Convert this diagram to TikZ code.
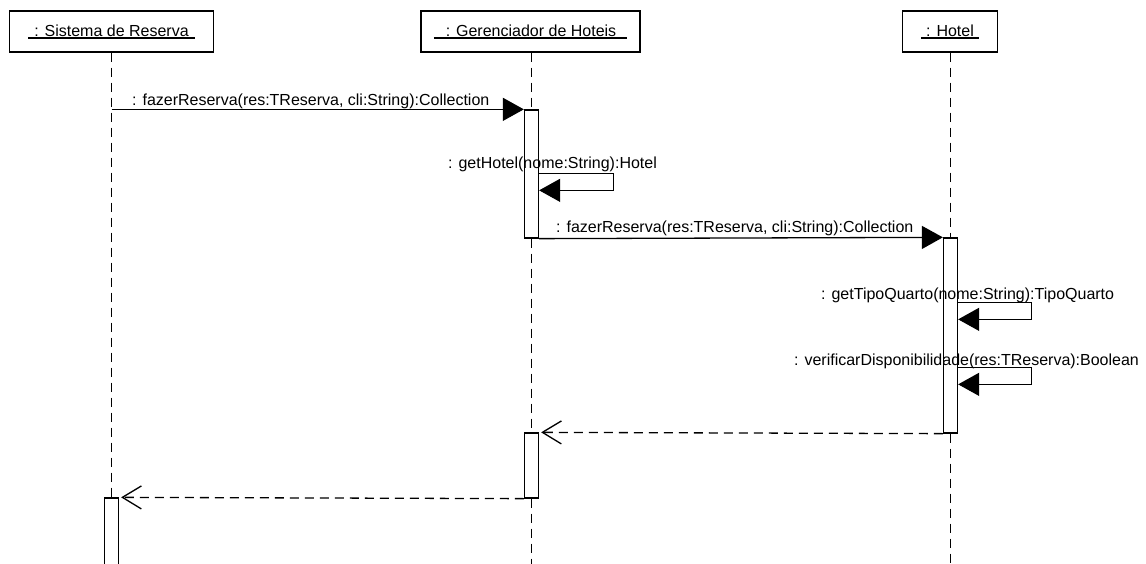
\documentclass[tikz,border=0pt]{standalone}
\usepackage{fontspec}
\setmainfont{Liberation Sans}
\usetikzlibrary{arrows.meta}

\newcommand{\objname}[1]{\setbox0\hbox{#1}\rlap{\rule[-2.5pt]{\wd0}{1.1pt}}\box0}

\tikzset{
  obj/.style={draw, line width=1.3pt, minimum height=41pt, inner sep=0pt},
  act/.style={draw, fill=white, line width=1.3pt, minimum width=14pt, inner sep=0pt},
  life/.style={line width=1.3pt, dash pattern=on 9pt off 6pt},
  call/.style={line width=1.3pt, -{Triangle[length=21pt,width=23pt]}},
  reply/.style={life, shorten >=2pt, -{Straight Barb[length=19pt,width=23pt]}},
  lbl/.style={inner sep=0pt, anchor=base west}
}

\begin{document}
\begin{tikzpicture}[x=1pt,y=-1pt,font=\fontsize{16}{19}\selectfont]
        \useasboundingbox (0,0) rectangle (1146,564);
        \coordinate (fim) at (0,570);
        \node[obj, minimum width=204pt] (sis) at (111.5,31.5) {\objname{\hspace{6pt}: Sistema de Reserva\hspace{6pt}}};
        \node[obj, minimum width=219pt] (ger) at (530.5,31.5) {\objname{\hspace{12pt}: Gerenciador de Hoteis\hspace{11pt}}};
        \node[obj, minimum width=95pt] (hot) at (950,31.5) {\objname{\hspace{5pt}: Hotel\hspace{5pt}}};
        \node[act, minimum height=128pt] (g1) at (531.5,174) {};
        \node[act, minimum height=195pt] (h1) at (950.5,335.5) {};
        \node[act, minimum height=65pt] (g2) at (531.5,465.5) {};
        \node[act, minimum height=80pt] (s1) at (111.5,538) {};
        \draw[life] (sis.south) -- (s1.north);
        \draw[life] (g1.north |- ger.south) -- (g1.north);
        \draw[life] (g1.south) -- (g2.north);
        \draw[life] (g2.south) -- (g2.south |- fim);
        \draw[life] (h1.north |- hot.south) -- (h1.north);
        \draw[life] (h1.south) -- (h1.south |- fim);
        \draw[call] (sis.south |- g1.north) -- (g1.north west);
        \draw[call] ([yshift=-64pt]g1.north east) -- ++(74,0) -- ++(0,17) -- ++(-74,0);
        \draw[call] (g1.south east) -- (h1.north west);
        \draw[call] ([yshift=-65pt]h1.north east) -- ++(73,0) -- ++(0,17) -- ++(-73,0);
        \draw[call] ([yshift=-130pt]h1.north east) -- ++(73,0) -- ++(0,17) -- ++(-73,0);
        \draw[reply] (h1.south west) -- (g2.north east);
        \draw[reply] (g2.south west) -- (s1.north east);
        \node[lbl] (l1) at (132,106) {: fazerReserva(res:TReserva, cli:String):Collection};
        \node[lbl] (l2) at (448,169) {: getHotel(nome:String):Hotel};
        \node[lbl] (l3) at (556,233) {: fazerReserva(res:TReserva, cli:String):Collection};
        \node[lbl] (l4) at (821,299) {: getTipoQuarto(nome:String):TipoQuarto};
        \node[lbl] (l5) at (794,365) {: verificarDisponibilidade(res:TReserva):Boolean};
\end{tikzpicture}
\end{document}
